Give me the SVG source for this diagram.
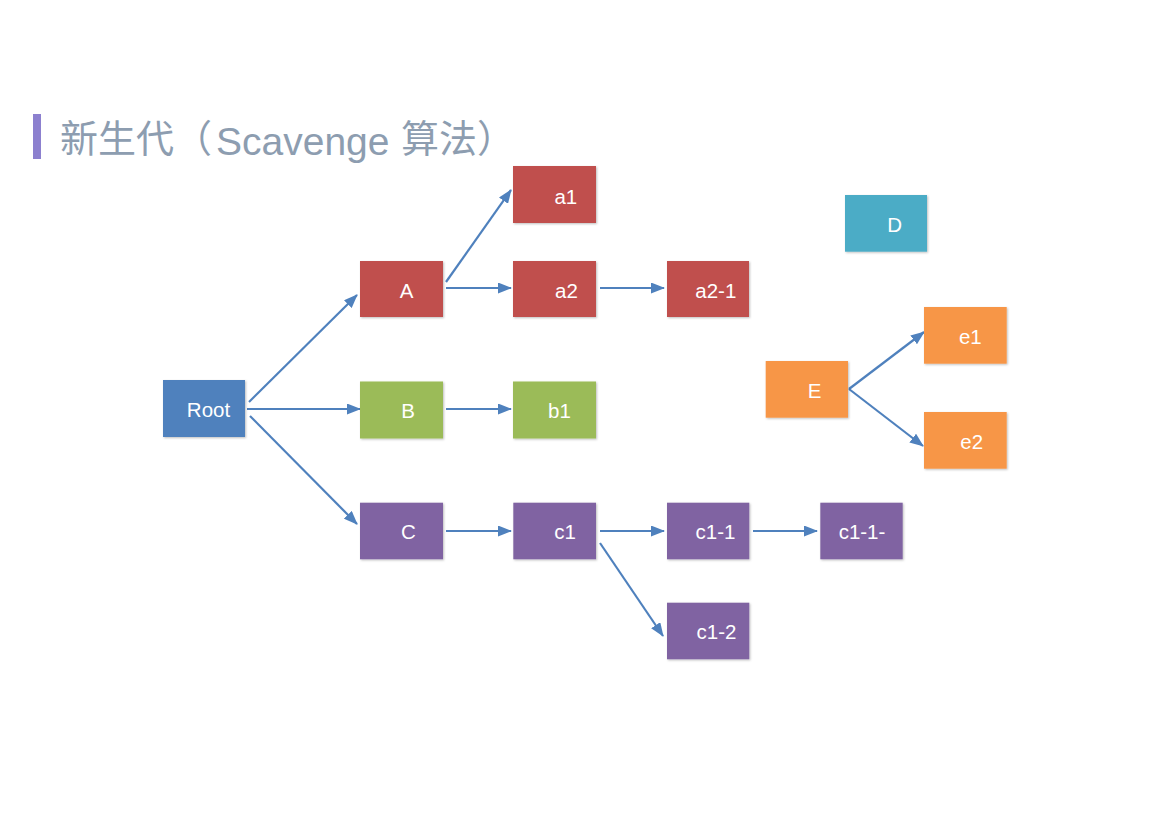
<svg xmlns="http://www.w3.org/2000/svg" width="1169" height="826" viewBox="0 0 1169 826">
<style>
.box{stroke:none;filter:url(#sh)}
.lbl{font-family:"Liberation Sans",Arial,sans-serif;font-size:20.5px;fill:#ffffff;text-anchor:middle}
.red{fill:#c0504d}.blue{fill:#4f81bd}.green{fill:#9bbb59}.purple{fill:#8064a2}.teal{fill:#4bacc6}.orange{fill:#f79646}
.conn line{stroke:#4f81bd;stroke-width:2.2;fill:none;marker-end:url(#arr)}
.title{font-family:"Liberation Sans","Noto Sans CJK SC",sans-serif;font-size:38px;fill:#8d9db0}
</style>
<defs>
<marker id="arr" markerUnits="userSpaceOnUse" markerWidth="14" markerHeight="11" refX="13" refY="5.5" orient="auto">
<path d="M0,0 L14,5.5 L0,11 z" fill="#4f81bd"/>
</marker>
<filter id="sh" x="-10%" y="-10%" width="130%" height="130%">
<feDropShadow dx="1" dy="1" stdDeviation="1" flood-color="#000" flood-opacity="0.25"/>
</filter>
</defs>
<rect width="1169" height="826" fill="#ffffff"/>
<g id="title">
<rect x="33" y="114" width="8" height="45" fill="#8c80cf"/>
<text class="title" y="155"><tspan x="60" y="152" font-family="Noto Sans CJK SC, sans-serif">新生代（</tspan><tspan x="216" y="155" font-size="39">Scavenge </tspan><tspan x="401" y="152" font-family="Noto Sans CJK SC, sans-serif">算法）</tspan></text>
</g>
<g id="connectors" class="conn">
<line x1="249" y1="402" x2="357" y2="295"/>
<line x1="247" y1="409" x2="360" y2="409"/>
<line x1="250" y1="416" x2="357" y2="524"/>
<line x1="446" y1="282" x2="511" y2="190"/>
<line x1="446" y1="288" x2="511" y2="288"/>
<line x1="600" y1="288" x2="664" y2="288"/>
<line x1="446" y1="409" x2="511" y2="409"/>
<line x1="446" y1="531" x2="511" y2="531"/>
<line x1="600" y1="531" x2="664" y2="531"/>
<line x1="753" y1="531" x2="817" y2="531"/>
<line x1="600" y1="543" x2="663" y2="636"/>
<line x1="849" y1="389" x2="924" y2="332"/>
<line x1="849" y1="389" x2="923" y2="446"/>
</g>
<g id="node-root"><rect class="box blue" x="163" y="380" width="82" height="57"/><text class="lbl" x="208.5" y="417">Root</text></g>
<g id="node-A"><rect class="box red" x="360" y="261" width="83" height="56"/><text class="lbl" x="406.7" y="297.5">A</text></g>
<g id="node-B"><rect class="box green" x="360" y="381.5" width="83" height="57"/><text class="lbl" x="408" y="418">B</text></g>
<g id="node-C"><rect class="box purple" x="360" y="502.7" width="83" height="56.6"/><text class="lbl" x="408.3" y="539">C</text></g>
<g id="node-a1"><rect class="box red" x="513" y="166" width="83" height="57"/><text class="lbl" x="565.8" y="204">a1</text></g>
<g id="node-a2"><rect class="box red" x="513" y="261" width="83" height="56"/><text class="lbl" x="566.5" y="297.5">a2</text></g>
<g id="node-a2-1"><rect class="box red" x="667" y="261" width="82" height="56"/><text class="lbl" x="715.8" y="297.5">a2-1</text></g>
<g id="node-b1"><rect class="box green" x="513" y="381.5" width="83" height="57"/><text class="lbl" x="559.5" y="418">b1</text></g>
<g id="node-c1"><rect class="box purple" x="513.3" y="502.7" width="82.7" height="56.6"/><text class="lbl" x="565" y="539">c1</text></g>
<g id="node-c1-1"><rect class="box purple" x="667" y="502.7" width="82.3" height="56.6"/><text class="lbl" x="715.5" y="539">c1-1</text></g>
<g id="node-c1-1-"><rect class="box purple" x="820.3" y="502.7" width="82.4" height="56.6"/><text class="lbl" x="862" y="539">c1-1-</text></g>
<g id="node-c1-2"><rect class="box purple" x="667" y="602.7" width="82.3" height="56.6"/><text class="lbl" x="716.5" y="639">c1-2</text></g>
<g id="node-D"><rect class="box teal" x="845" y="195" width="82" height="56.7"/><text class="lbl" x="894.7" y="231.5">D</text></g>
<g id="node-E"><rect class="box orange" x="765.7" y="361" width="82.3" height="56.7"/><text class="lbl" x="814.5" y="397.5">E</text></g>
<g id="node-e1"><rect class="box orange" x="924" y="307" width="82.7" height="56.7"/><text class="lbl" x="970.3" y="343.5">e1</text></g>
<g id="node-e2"><rect class="box orange" x="924" y="412" width="82.7" height="56.7"/><text class="lbl" x="971.7" y="448.5">e2</text></g>
</svg>
